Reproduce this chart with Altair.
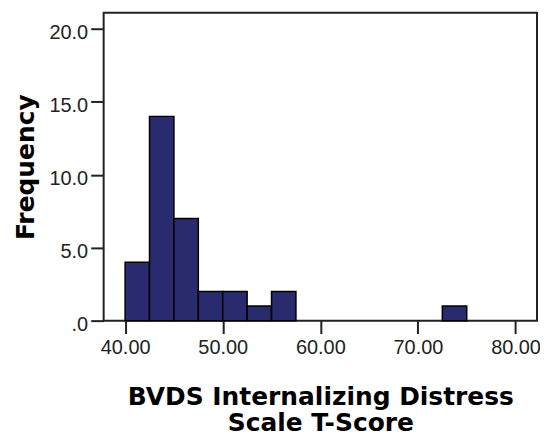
import altair as alt
import pandas as pd

bin_start = [40.0, 42.5, 45.0, 47.5, 50.0, 52.5, 55.0, 72.5]
bin_end = [42.5, 45.0, 47.5, 50.0, 52.5, 55.0, 57.5, 75.0]
counts = [4, 14, 7, 2, 2, 1, 2, 1]

x_ticks = [40, 50, 60, 70, 80]
y_ticks = [0, 5, 10, 15, 20]

df = pd.DataFrame({"start": bin_start, "end": bin_end, "count": counts})

W, H = 435, 309

chart = alt.Chart(df).mark_bar(
    color="#292b6e", stroke="#000000", strokeWidth=1.5
).encode(
    x=alt.X("start:Q",
            scale=alt.Scale(domain=[37.8, 82.2], nice=False, zero=False),
            axis=alt.Axis(values=x_ticks, format=".2f",
                          title=["BVDS Internalizing Distress", "Scale T-Score"],
                          titleBaseline="alphabetic", titleY=84,
                          titleLineHeight=26.5,
                          labelPadding=4, labelBaseline="top")),
    x2="end:Q",
    y=alt.Y("count:Q",
            scale=alt.Scale(domain=[0, 21.1], nice=False),
            axis=alt.Axis(values=y_ticks,
                          labelExpr="datum.value == 0 ? '.0' : format(datum.value, '.1f')",
                          title="Frequency",
                          titleBaseline="alphabetic", titleX=-70, titleY=H / 2,
                          titleAlign="center",
                          labelPadding=3, labelOffset=4)),
    y2=alt.datum(0),
).properties(
    width=W, height=H,
    autosize=alt.AutoSizeParams(type="none"),
    padding={"left": 96, "top": 4, "right": 3, "bottom": 116},
).configure_view(
    stroke="#222222", strokeWidth=2
).configure_axis(
    domain=False, grid=False,
    tickSize=13, tickWidth=2, tickColor="#222222",
    labelFont="Liberation Sans", labelFontSize=20, labelColor="#222222",
    titleFont="DejaVu Sans", titleFontSize=25, titleFontWeight="bold",
    titleColor="#000000",
)

chart.save("out.html", embed_options={"renderer": "svg", "actions": False})
